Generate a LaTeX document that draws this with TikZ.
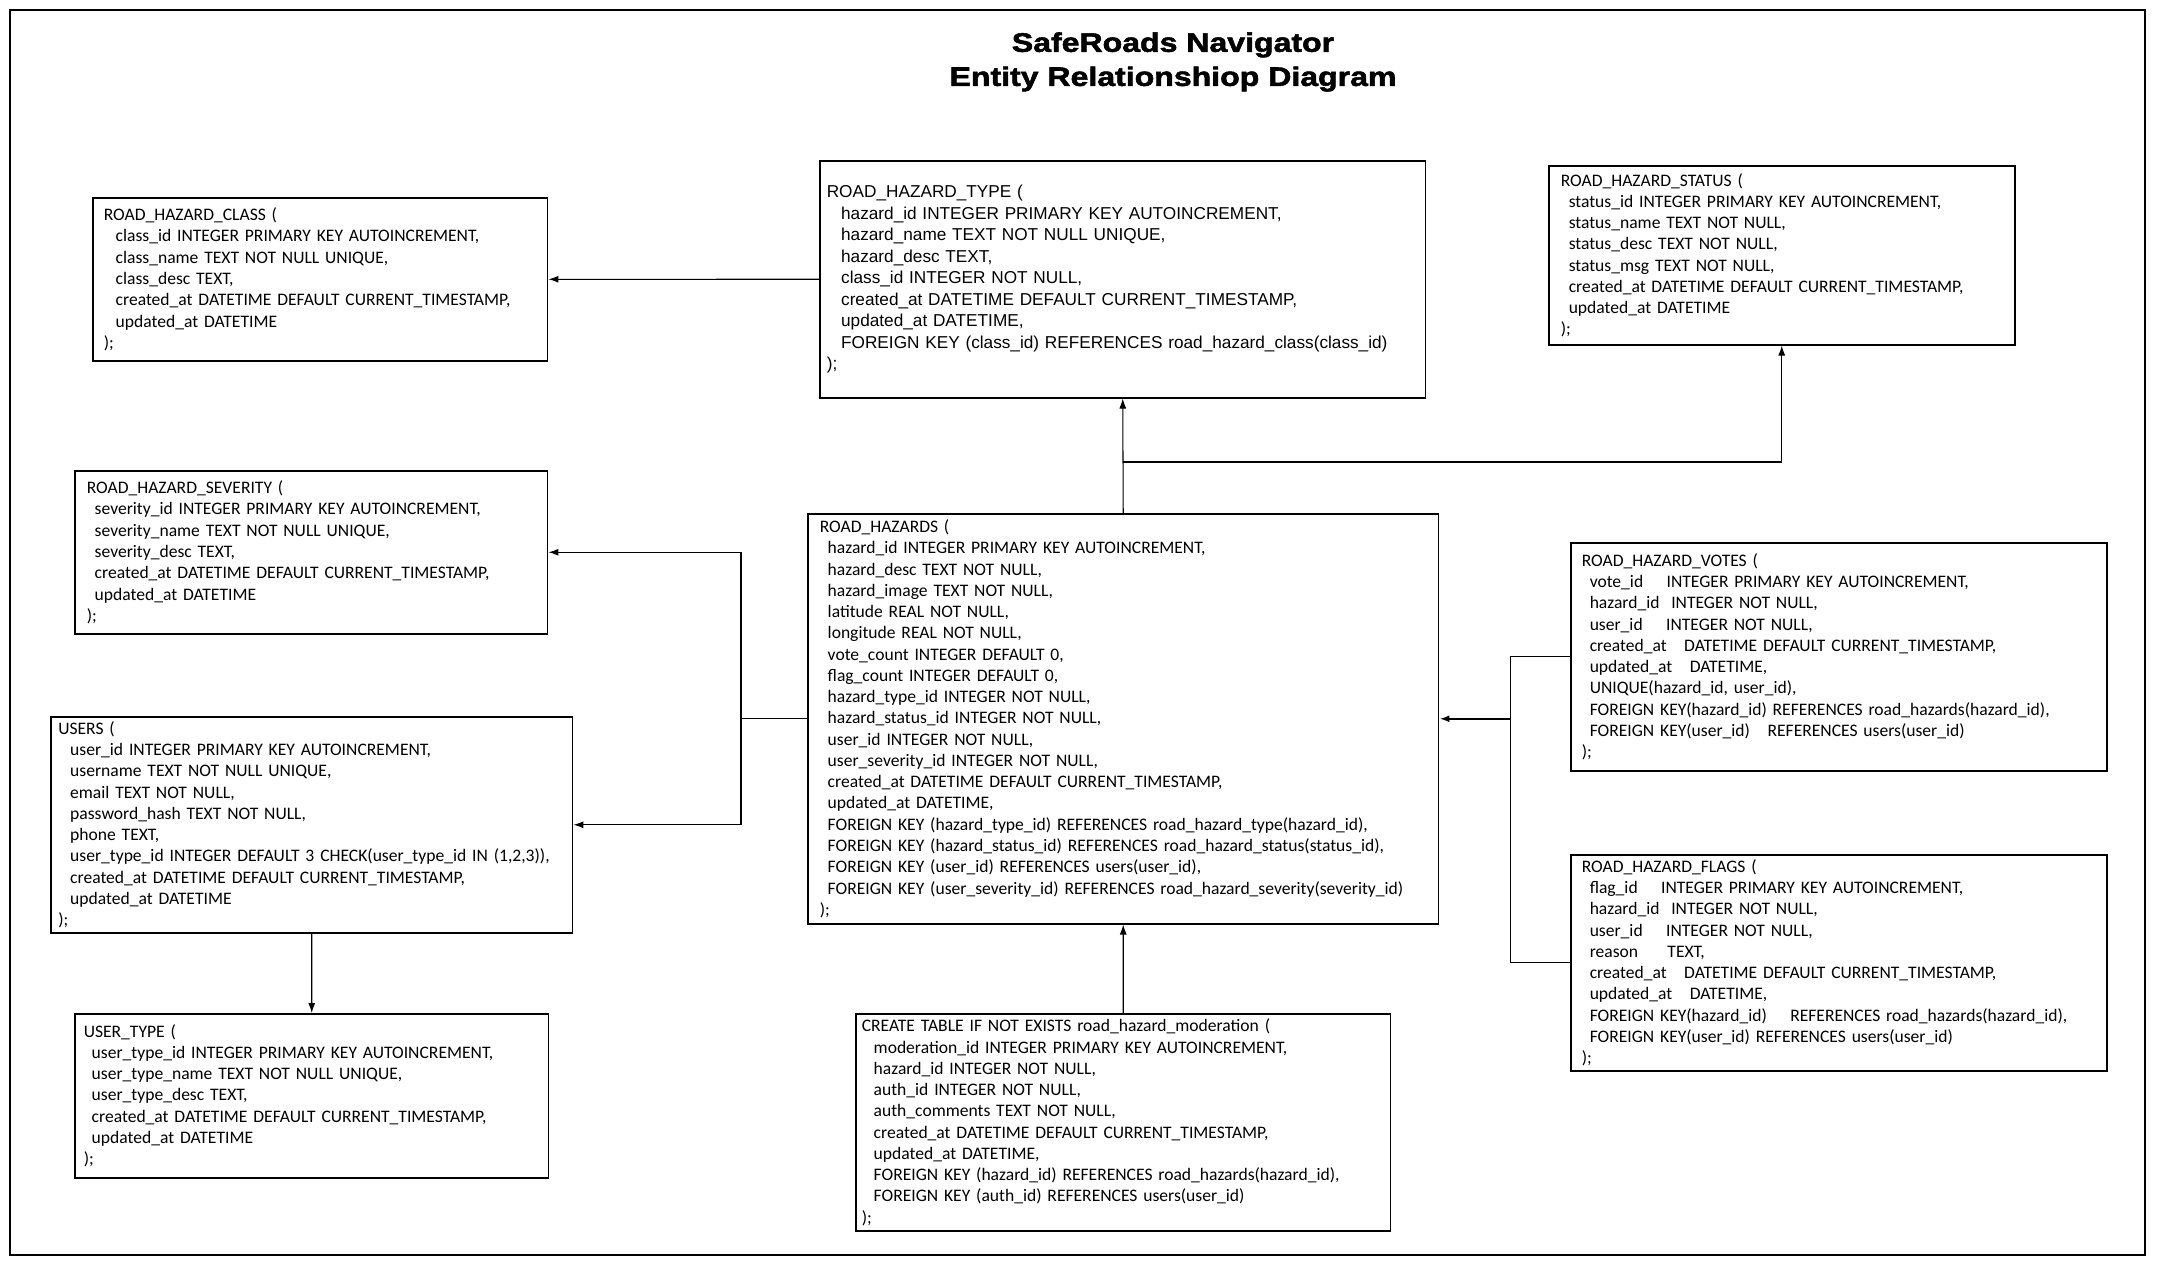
\documentclass[tikz,border=0pt]{standalone}
\usepackage{fontspec}
\setmainfont{Carlito}
\newfontfamily\arialfont{Liberation Sans}
\newfontfamily\titlefont{Liberation Sans}[FakeStretch=1.2, BoldFeatures={FakeBold=2}]
\usetikzlibrary{calc}
\usetikzlibrary{arrows.meta}

\newcommand{\ind}[1][2]{\hspace*{#1\fontdimen2\font}}

\begin{document}
\begin{tikzpicture}[
    x=0.02cm, y=-0.02cm,
    entity/.style={rectangle, draw=black, line width=0.9pt, fill=white, anchor=north west, align=left, inner xsep=0.22cm, inner ysep=0pt, font=\fontsize{10}{12.1}\selectfont},
    link/.style={line width=0.6pt},
    tip/.style={-{Latex[length=0.2cm, width=0.14cm]}},
]
    \useasboundingbox (0,0) rectangle (2160,1265);
    \draw[line width=0.9pt] (10,10) rectangle (2145,1255);

    \node[font=\titlefont\bfseries\fontsize{15.2}{19.4}\selectfont, align=center] (title) at (1173,62) {SafeRoads Navigator\\Entity Relationshiop Diagram};

    \node[entity, text width=8.66cm, minimum height=3.26cm] (RHC) at (92,197) {ROAD\_HAZARD\_CLASS (\\
\ind[3]class\_id INTEGER PRIMARY KEY AUTOINCREMENT,\\
\ind[3]class\_name TEXT NOT NULL UNIQUE,\\
\ind[3]class\_desc TEXT,\\
\ind[3]created\_at DATETIME DEFAULT CURRENT\_TIMESTAMP,\\
\ind[3]updated\_at DATETIME\\
);};

    \node[entity, text width=11.84cm, minimum height=4.74cm, inner xsep=0.14cm, font=\arialfont\fontsize{9.8}{12.2}\selectfont] (RHT) at (819,160) {ROAD\_HAZARD\_TYPE (\\
\ind[3]hazard\_id INTEGER PRIMARY KEY AUTOINCREMENT,\\
\ind[3]hazard\_name TEXT NOT NULL UNIQUE,\\
\ind[3]hazard\_desc TEXT,\\
\ind[3]class\_id INTEGER NOT NULL,\\
\ind[3]created\_at DATETIME DEFAULT CURRENT\_TIMESTAMP,\\
\ind[3]updated\_at DATETIME,\\
\ind[3]FOREIGN KEY (class\_id) REFERENCES road\_hazard\_class(class\_id)\\
);};

    \node[entity, text width=8.84cm, minimum height=3.58cm, inner xsep=0.24cm] (RHS) at (1548,165) {ROAD\_HAZARD\_STATUS (\\
\ind status\_id INTEGER PRIMARY KEY AUTOINCREMENT,\\
\ind status\_name TEXT NOT NULL,\\
\ind status\_desc TEXT NOT NULL,\\
\ind status\_msg TEXT NOT NULL,\\
\ind created\_at DATETIME DEFAULT CURRENT\_TIMESTAMP,\\
\ind updated\_at DATETIME\\
);};

    \node[entity, text width=8.98cm, minimum height=3.26cm, inner xsep=0.24cm] (RHSev) at (74,470) {ROAD\_HAZARD\_SEVERITY (\\
\ind severity\_id INTEGER PRIMARY KEY AUTOINCREMENT,\\
\ind severity\_name TEXT NOT NULL UNIQUE,\\
\ind severity\_desc TEXT,\\
\ind created\_at DATETIME DEFAULT CURRENT\_TIMESTAMP,\\
\ind updated\_at DATETIME\\
);};

    \node[entity, text width=10.14cm, minimum height=4.32cm, inner xsep=0.15cm] (U) at (50,716) {USERS (\\
\ind[3]user\_id INTEGER PRIMARY KEY AUTOINCREMENT,\\
\ind[3]username TEXT NOT NULL UNIQUE,\\
\ind[3]email TEXT NOT NULL,\\
\ind[3]password\_hash TEXT NOT NULL,\\
\ind[3]phone TEXT,\\
\ind[3]user\_type\_id INTEGER DEFAULT 3 CHECK(user\_type\_id IN (1,2,3)),\\
\ind[3]created\_at DATETIME DEFAULT CURRENT\_TIMESTAMP,\\
\ind[3]updated\_at DATETIME\\
);};

    \node[entity, text width=12.14cm, minimum height=8.2cm, inner xsep=0.24cm] (RH) at (807,513) {ROAD\_HAZARDS (\\
\ind hazard\_id INTEGER PRIMARY KEY AUTOINCREMENT,\\
\ind hazard\_desc TEXT NOT NULL,\\
\ind hazard\_image TEXT NOT NULL,\\
\ind latitude REAL NOT NULL,\\
\ind longitude REAL NOT NULL,\\
\ind vote\_count INTEGER DEFAULT 0,\\
\ind flag\_count INTEGER DEFAULT 0,\\
\ind hazard\_type\_id INTEGER NOT NULL,\\
\ind hazard\_status\_id INTEGER NOT NULL,\\
\ind user\_id INTEGER NOT NULL,\\
\ind user\_severity\_id INTEGER NOT NULL,\\
\ind created\_at DATETIME DEFAULT CURRENT\_TIMESTAMP,\\
\ind updated\_at DATETIME,\\
\ind FOREIGN KEY (hazard\_type\_id) REFERENCES road\_hazard\_type(hazard\_id),\\
\ind FOREIGN KEY (hazard\_status\_id) REFERENCES road\_hazard\_status(status\_id),\\
\ind FOREIGN KEY (user\_id) REFERENCES users(user\_id),\\
\ind FOREIGN KEY (user\_severity\_id) REFERENCES road\_hazard\_severity(severity\_id)\\
);};

    \node[entity, text width=10.28cm, minimum height=4.56cm] (RHV) at (1570,542) {ROAD\_HAZARD\_VOTES (\\
\ind vote\_id~~~~INTEGER PRIMARY KEY AUTOINCREMENT,\\
\ind hazard\_id~~INTEGER NOT NULL,\\
\ind user\_id~~~~INTEGER NOT NULL,\\
\ind created\_at~~~DATETIME DEFAULT CURRENT\_TIMESTAMP,\\
\ind updated\_at~~~DATETIME,\\
\ind UNIQUE(hazard\_id, user\_id),\\
\ind FOREIGN KEY(hazard\_id) REFERENCES road\_hazards(hazard\_id),\\
\ind FOREIGN KEY(user\_id)~~~REFERENCES users(user\_id)\\
);};

    \node[entity, text width=10.28cm, minimum height=4.32cm] (RHF) at (1570,854) {ROAD\_HAZARD\_FLAGS (\\
\ind flag\_id~~~~INTEGER PRIMARY KEY AUTOINCREMENT,\\
\ind hazard\_id~~INTEGER NOT NULL,\\
\ind user\_id~~~~INTEGER NOT NULL,\\
\ind reason~~~~~TEXT,\\
\ind created\_at~~~DATETIME DEFAULT CURRENT\_TIMESTAMP,\\
\ind updated\_at~~~DATETIME,\\
\ind FOREIGN KEY(hazard\_id)~~~~REFERENCES road\_hazards(hazard\_id),\\
\ind FOREIGN KEY(user\_id) REFERENCES users(user\_id)\\
);};

    \node[entity, text width=9.12cm, minimum height=3.28cm, inner xsep=0.18cm] (UT) at (74,1013) {USER\_TYPE (\\
\ind user\_type\_id INTEGER PRIMARY KEY AUTOINCREMENT,\\
\ind user\_type\_name TEXT NOT NULL UNIQUE,\\
\ind user\_type\_desc TEXT,\\
\ind created\_at DATETIME DEFAULT CURRENT\_TIMESTAMP,\\
\ind updated\_at DATETIME\\
);};

    \node[entity, text width=10.46cm, minimum height=4.34cm, inner xsep=0.12cm] (RHM) at (855,1013) {CREATE TABLE IF NOT EXISTS road\_hazard\_moderation (\\
\ind[3]moderation\_id INTEGER PRIMARY KEY AUTOINCREMENT,\\
\ind[3]hazard\_id INTEGER NOT NULL,\\
\ind[3]auth\_id INTEGER NOT NULL,\\
\ind[3]auth\_comments TEXT NOT NULL,\\
\ind[3]created\_at DATETIME DEFAULT CURRENT\_TIMESTAMP,\\
\ind[3]updated\_at DATETIME,\\
\ind[3]FOREIGN KEY (hazard\_id) REFERENCES road\_hazards(hazard\_id),\\
\ind[3]FOREIGN KEY (auth\_id) REFERENCES users(user\_id)\\
);};

    \coordinate (JT) at ($(RH.north)+(0,-51)$);
    \coordinate (JL) at ($(RH.west)+(-66,0)$);
    \coordinate (JR) at ($(RH.east)+(71,0)$);

    \draw[link, tip] (RHT.west) -- (RHC.east);
    \draw[link, tip] (RH.north) -- (RHT.south);
    \draw[link, tip] (JT) -| (RHS.south);

    \draw[link] (RH.west) -- (JL);
    \draw[link, tip] (JL) |- (RHSev.east);
    \draw[link, tip] (JL) |- (U.east);
    \draw[link, tip] (U.south) -- (UT.north);

    \draw[link, tip] (RHM.north) -- (RH.south);

    \draw[link] (RHV.west) -| (JR);
    \draw[link] (RHF.west) -| (JR);
    \draw[line width=1.3pt, tip] (JR) -- (RH.east);
\end{tikzpicture}
\end{document}
